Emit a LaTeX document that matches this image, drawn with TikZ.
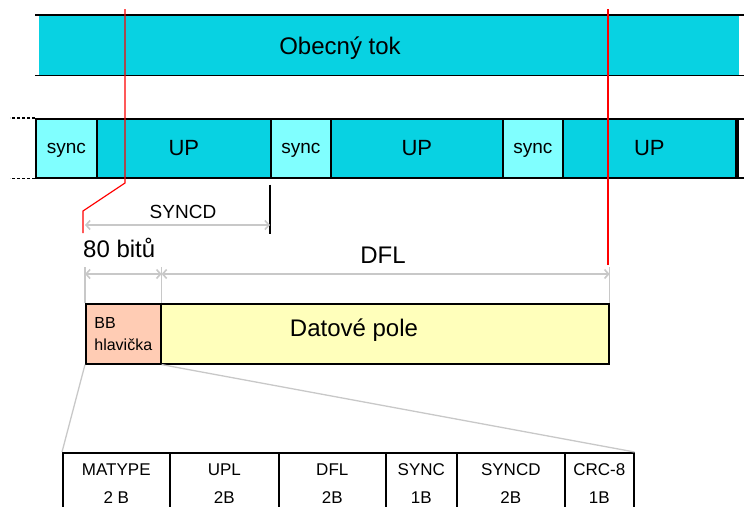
\documentclass[tikz,border=0pt]{standalone}
\usepackage{fontspec}
\setmainfont{Liberation Sans}
\usetikzlibrary{arrows.meta}

\definecolor{tokcyan}{RGB}{8,210,226}
\definecolor{synccyan}{RGB}{128,255,255}
\definecolor{hlavlosos}{RGB}{255,204,180}
\definecolor{polezluta}{RGB}{255,255,187}
\definecolor{kotaseda}{RGB}{200,200,200}

\tikzset{
  blok/.style={draw=black, line width=1.6pt, inner sep=0pt, anchor=north west},
  syncblok/.style={blok, fill=synccyan, minimum height=59pt, text depth=0pt,
    font=\fontsize{19}{22}\selectfont},
  upblok/.style={blok, fill=tokcyan, minimum height=59pt, font=\fontsize{22}{26}\selectfont},
  bunka/.style={blok, fill=white, minimum height=61pt, align=center,
    font=\fontsize{17}{28}\selectfont},
  obrys/.style={black, line width=1.6pt},
  cervena/.style={red, line width=1.2pt},
  kota/.style={kotaseda, line width=1.6pt,
    {Straight Barb[length=4pt,width=9pt]}-{Straight Barb[length=4pt,width=9pt]}},
  pomocna/.style={kotaseda, line width=1.3pt},
  velky/.style={inner sep=0pt, font=\fontsize{24}{28}\selectfont},
  stredni/.style={inner sep=0pt, font=\fontsize{19}{22}\selectfont}
}

\begin{document}
\begin{tikzpicture}[x=1pt, y=-1pt]
  \clip (0,0) rectangle (744,506);

  \node[fill=tokcyan, minimum width=700pt, minimum height=60pt, inner sep=0pt,
    anchor=north west] (tok) at (39,15) {};
  \node[velky] (toktext) at (340,48) {Obecný tok};
  \draw[obrys] (tok.north west) ++(-4,0) -- ++(709,0);
  \draw[obrys] (tok.south west) ++(-4,0) -- ++(709,0);

  \node[syncblok, minimum width=61pt] (sync1) at (35,118) {sync};
  \node[upblok, minimum width=174pt] (up1) at (96,118) {UP};
  \node[syncblok, minimum width=60pt] (sync2) at (270,118) {sync};
  \node[upblok, minimum width=172pt] (up2) at (330,118) {UP};
  \node[syncblok, minimum width=60pt] (sync3) at (502,118) {sync};
  \node[upblok, minimum width=173pt] (up3) at (562,118) {UP};
  \node[blok, fill=white, minimum width=20pt, minimum height=59pt] (dalsi) at (737,118) {};
  \draw[obrys, dash pattern=on 3pt off 2pt] (sync1.north west) -- ++(-25,0);
  \draw[obrys, dash pattern=on 3pt off 2pt] (sync1.south west) -- ++(-25,0);

  \node[blok, fill=hlavlosos, minimum width=75pt, minimum height=60pt, align=left,
    font=\fontsize{16}{22}\selectfont] (bb) at (85,303) {BB\\hlavička};
  \node[blok, fill=polezluta, minimum width=448pt, minimum height=60pt] (pole) at (160,303) {};
  \node[velky] (poletext) at (354,330) {Datové pole};

  \node[bunka, minimum width=107pt] (matype) at (62,452) {MATYPE\\2 B};
  \node[bunka, minimum width=109pt] (upl) at (169,452) {UPL\\2B};
  \node[bunka, minimum width=107pt] (dflb) at (278,452) {DFL\\2B};
  \node[bunka, minimum width=71pt] (syncb) at (385,452) {SYNC\\1B};
  \node[bunka, minimum width=108pt] (syncdb) at (456,452) {SYNCD\\2B};
  \node[bunka, minimum width=69pt] (crc) at (564,452) {CRC-8\\1B};

  \coordinate (rtop) at (125,9);
  \coordinate (rzlom) at (125,183);
  \coordinate (rpata) at (83,211);
  \draw[cervena] (rtop) -- (rzlom) -- (rpata) -- ++(0,22);
  \draw[cervena] (608,9) -- (608,265);

  \draw[obrys] (sync2.south west) ++(0,6) -- ++(0,49);
  \coordinate (s0) at (85,225);
  \draw[kota] (s0) -- (s0 -| sync2.west);
  \node[stredni] (syncdtext) at (183,212) {SYNCD};
  \node[velky, anchor=base west] (bity) at (83,257) {80 bitů};

  \draw[pomocna] (bb.north west) -- ++(0,-36);
  \draw[pomocna] (bb.north east) -- ++(0,-36);
  \draw[pomocna] (pole.north east) -- ++(0,-36);
  \coordinate (k0) at (85,274);
  \draw[kota] (k0) -- (k0 -| bb.east);
  \draw[kota] (k0 -| bb.east) -- (k0 -| pole.east);
  \node[velky, anchor=base] (dfltext) at (383,263) {DFL};

  \path[pomocna] (bb.south west) edge (matype.north west);
  \path[pomocna] (bb.south east) edge (crc.north east);
\end{tikzpicture}
\end{document}
